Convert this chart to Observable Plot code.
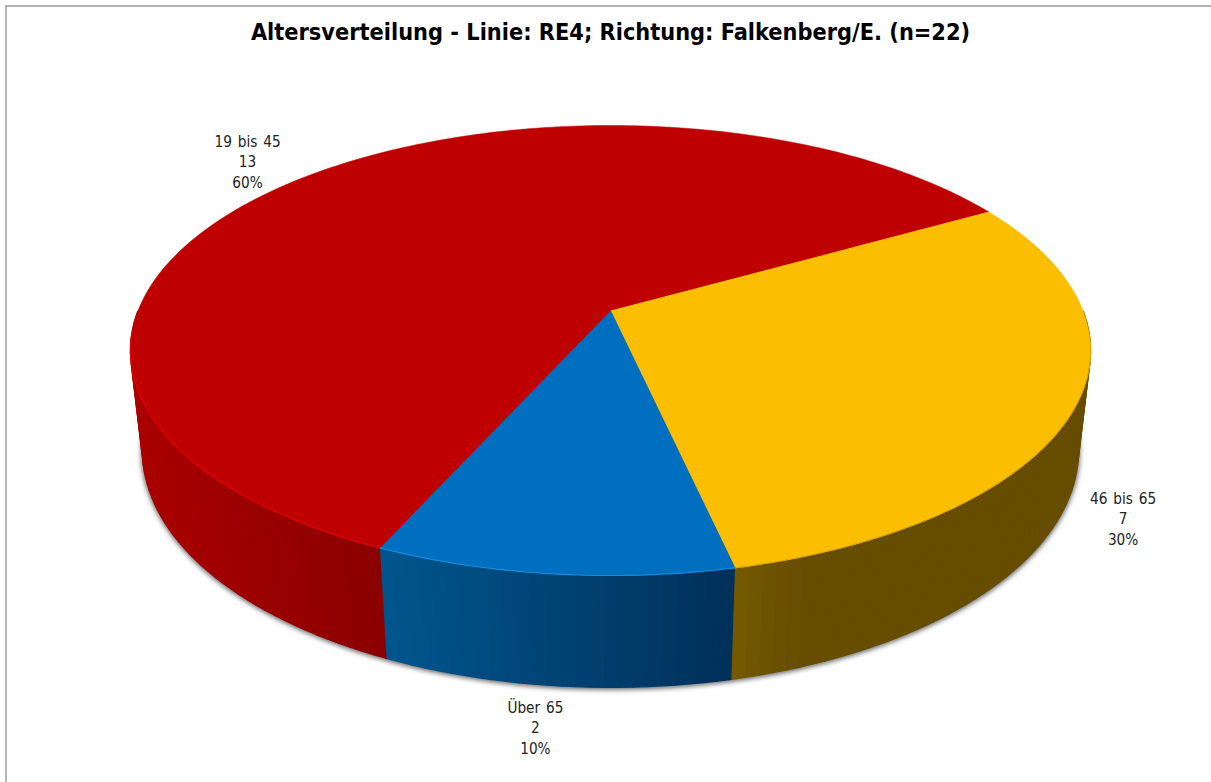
<!DOCTYPE html>
<html><head><meta charset="utf-8">
<style>html,body{margin:0;padding:0;background:#fff}svg{display:block}.pie-label{word-spacing:1.5px}</style>
<script src="https://cdn.jsdelivr.net/npm/d3@7"></script>
<script src="https://cdn.jsdelivr.net/npm/@observablehq/plot@0.6"></script>
</head><body><div id="chart"></div>
<script>
const titleText = "Altersverteilung - Linie: RE4; Richtung: Falkenberg/E. (n=22)";
const categories = ["46 bis 65", "Über 65", "19 bis 45"];
const counts = [7, 2, 13];
const percents = [30, 10, 60];
const sliceShares = [29.7, 10.2, 60.1];
const topColors = ["#FBBE00", "#006FC0", "#BE0000"];
const rimColors = ["#e0ab00", "#1a8be0", "#e80000"];
const wallDomains = [[735, 800], [381, 735], [130, 381]];
const wallRanges = [["#765A00", "#664D00"], ["#00568D", "#00305A"], ["#AA0000", "#8A0000"]];
const labelOffsets = [[59.5, 8], [-19, 41], [-51, -19]];

// pie geometry: a tilted disc seen in perspective
const W = 1211, H = 782, startDeg = 60.5;
function project(deg, r, h) {
  const a = deg * Math.PI / 180, u = r * Math.sin(a), v = r * Math.cos(a);
  const w = 1 + 0.1778 * v + 0.025 * h;
  return [610 + 472.4 * u / w, (310 - 162.8 * v + 109 * h) / w];
}
const total = d3.sum(sliceShares);
let acc = startDeg;
const slices = categories.map((c, i) => {
  const a0 = acc; acc += sliceShares[i] / total * 360;
  return {i, a0, a1: acc, mid: (a0 + acc) / 2};
});
const anglesOf = (s, step) => {
  const n = Math.ceil((s.a1 - s.a0) / step);
  return d3.range(n + 1).map(k => s.a0 + (s.a1 - s.a0) * k / n);
};

const wallRows = [], topRows = [], rimRows = [], shadowRows = [];
for (const s of slices) {
  const shade = d3.scaleLinear().domain(wallDomains[s.i]).range(wallRanges[s.i]).clamp(true).interpolate(d3.interpolateRgb);
  const as = anglesOf(s, 1.5);
  for (let k = 0; k < as.length - 1; k++) {
    if (Math.cos(as[k] * Math.PI / 180) > -0.02 && Math.cos(as[k + 1] * Math.PI / 180) > -0.02) continue;
    const id = `w${s.i}-${k}`;
    const p = [project(as[k],1,0), project(as[k+1],1,0), project(as[k+1],1,1), project(as[k],1,1)];
    const c = shade((p[0][0] + p[1][0]) / 2);
    p.forEach(q => wallRows.push({id, x: q[0], y: q[1], c}));
  }
  [project(0,0,0), ...anglesOf(s, 1).map(a => project(a,1,0))].forEach(q => topRows.push({id: s.i, x: q[0], y: q[1], c: topColors[s.i]}));
  anglesOf(s, 1).filter(a => Math.cos(a * Math.PI / 180) < -0.1).forEach(a => {
    const q = project(a, 1, 0);
    rimRows.push({id: s.i, x: q[0], y: q[1], c: rimColors[s.i]});
  });
}
d3.range(0, 361, 2).forEach(a => {
  const q = project(a, 1, 1);
  shadowRows.push({x: q[0], y: q[1]});
});
const labels = slices.map(s => {
  const h = s.i === 2 ? 0 : 1;
  const q = project(s.mid, 1, h);
  return {x: q[0] + labelOffsets[s.i][0], y: q[1] + labelOffsets[s.i][1],
    t: `${categories[s.i]}\n${counts[s.i]}\n${percents[s.i]}%`};
});
const frameColor = "#979797";
const font = "'DejaVu Sans Condensed', 'DejaVu Sans', sans-serif";

const chart = Plot.plot({
  width: W, height: H, margin: 0,
  x: {domain: [0, W], range: [0, W], axis: null},
  y: {domain: [0, H], range: [0, H], axis: null},
  color: {type: "identity"},
  marks: [
    Plot.ruleX([5.5], {y1: 5.5, y2: H, stroke: frameColor, strokeWidth: 1.4}),
    Plot.ruleY([5.5], {x1: 5.5, x2: W, stroke: frameColor, strokeWidth: 1.4}),
    Plot.line(shadowRows, {x: "x", y: "y", dy: 1, fill: "#666", stroke: "#666", strokeWidth: 3,
      imageFilter: "blur(2.5px)"}),
    Plot.line(wallRows, {x: "x", y: "y", z: "id", fill: "c", stroke: "c", strokeWidth: 1.4}),
    Plot.line(topRows, {x: "x", y: "y", z: "id", fill: "c", stroke: "c", strokeWidth: 0.5}),
    Plot.line(rimRows, {x: "x", y: "y", z: "id", stroke: "c", strokeWidth: 1.1}),
    Plot.text(labels, {x: "x", y: "y", text: "t", fontSize: 15.2, lineHeight: 1.35,
      fill: "#222", fontFamily: font, className: "pie-label"}),
    Plot.text([titleText], {x: [610], y: [32], fontSize: 23.3, fontWeight: 700,
      fill: "#000", fontFamily: font})
  ]
});
document.getElementById("chart").append(chart);
</script></body></html>
